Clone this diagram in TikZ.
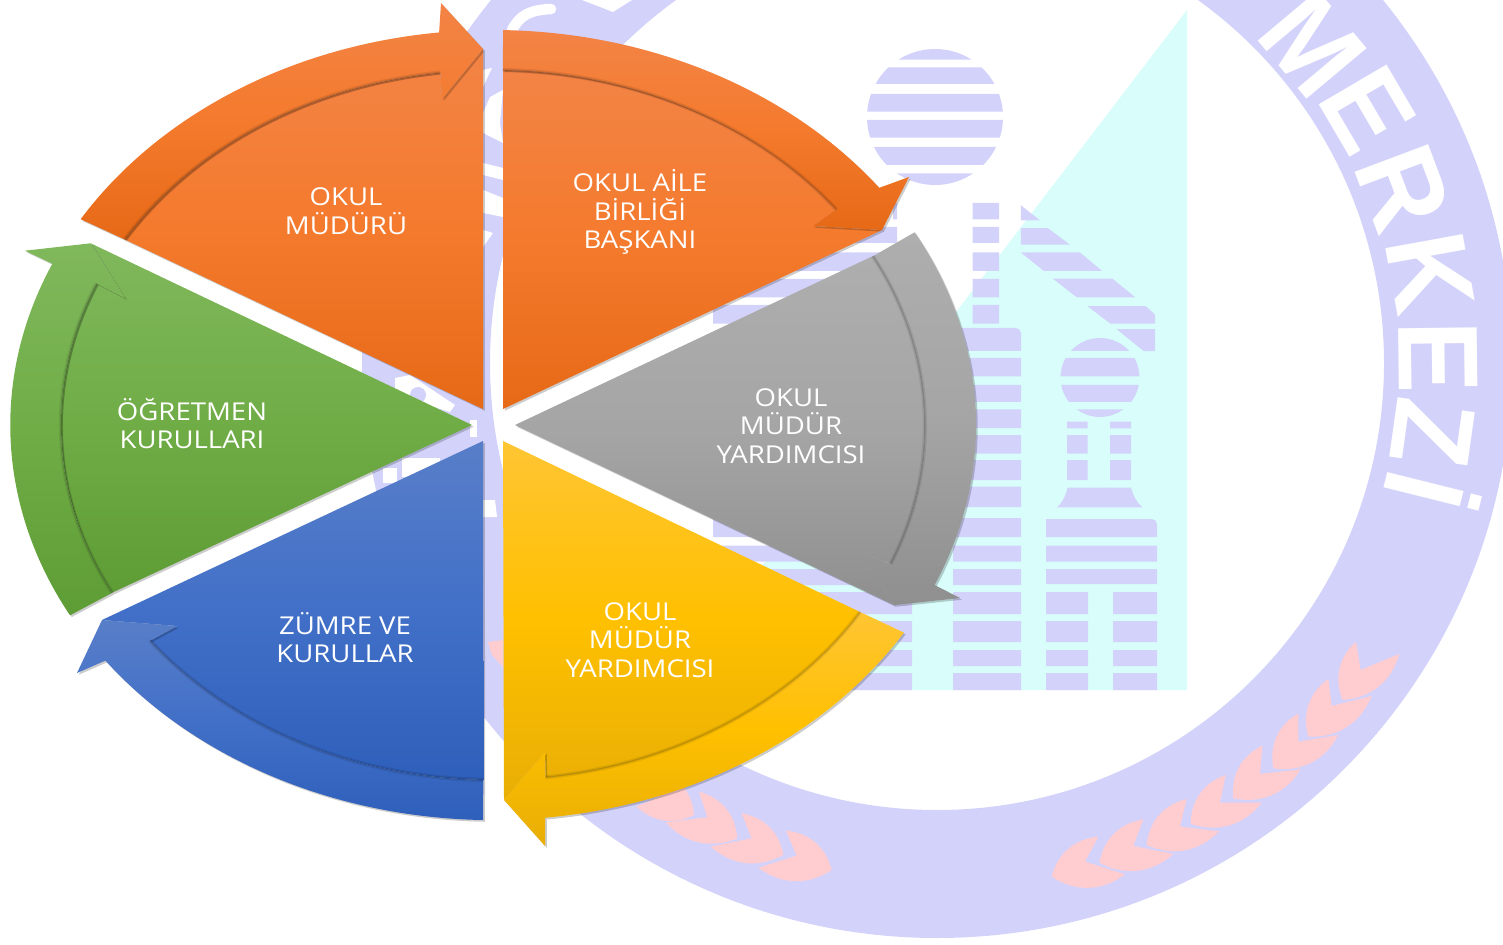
\documentclass[tikz,border=0pt]{standalone}
\usepackage{fontspec}
\setmainfont{Open Sans}
\newfontfamily\ringfont{Liberation Sans}
\usetikzlibrary{shadows}
\definecolor{ringlilac}{RGB}{211,210,250}
\definecolor{towercyan}{RGB}{216,253,250}
\definecolor{leafpink}{RGB}{255,204,208}
\definecolor{orangetop}{RGB}{243,132,70}
\definecolor{orangemid}{RGB}{244,122,45}
\definecolor{orangelow}{RGB}{230,105,22}
\definecolor{greentop}{RGB}{128,184,92}
\definecolor{greenmid}{RGB}{112,173,71}
\definecolor{greenlow}{RGB}{94,156,53}
\definecolor{bluetop}{RGB}{88,126,200}
\definecolor{bluemid}{RGB}{66,112,200}
\definecolor{bluelow}{RGB}{46,95,186}
\definecolor{yellowtop}{RGB}{255,197,51}
\definecolor{yellowmid}{RGB}{255,192,0}
\definecolor{yellowlow}{RGB}{232,174,5}
\definecolor{graytop}{RGB}{174,174,174}
\definecolor{graymid}{RGB}{165,165,165}
\definecolor{graylow}{RGB}{143,143,143}
\tikzset{
  outerarc/.style={x radius=483, y radius=395},
  innerarc/.style={x radius=432, y radius=355},
  softshadow/.style={drop shadow={shadow xshift=1pt, shadow yshift=-1pt, opacity=.2, fill=black}},
  orangepart/.style={top color=orangetop, bottom color=orangelow, middle color=orangemid, softshadow},
  greenpart/.style={top color=greentop, bottom color=greenlow, middle color=greenmid, softshadow},
  bluepart/.style={top color=bluetop, bottom color=bluelow, middle color=bluemid, softshadow},
  yellowpart/.style={top color=yellowtop, bottom color=yellowlow, middle color=yellowmid, softshadow},
  graypart/.style={top color=graytop, bottom color=graylow, middle color=graymid, softshadow},
  bandedge/.style={draw=black, draw opacity=.14, line width=.8pt, preaction={draw=black, draw opacity=.08, line width=2.4pt}},
  sectorlabel/.style={text=white, align=center, inner sep=0pt, xscale=1.12, transform shape, font=\fontsize{14}{16.2}\selectfont},
  ringletter/.style={text=white, inner sep=0pt, xscale=.95, transform shape, font=\ringfont\bfseries\fontsize{65}{70}\selectfont},
  lilac/.style={fill=ringlilac},
}

\begin{document}
\begin{tikzpicture}[x=0.02cm, y=-0.02cm]

  \useasboundingbox (0,0) rectangle (1503,945);

  % cyan triangle behind the towers
  \fill[towercyan] (1187,10) -- (1187,690) -- (667,690) -- cycle;

  % ring
  \fill[ringlilac, even odd rule] (937,363) circle[radius=575] circle[radius=447];

  % ring letters
  \node[rotate=-50, ringletter] (letter-m) at (1313,45) {M};
  \node[rotate=-59.6, ringletter] (letter-e1) at (1368,110) {E};
  \node[rotate=-69.4, ringletter] (letter-r) at (1403,188) {R};
  \node[rotate=-79.7, ringletter] (letter-k) at (1430,273) {K};
  \node[rotate=-89.3, ringletter] (letter-e2) at (1438,357) {E};
  \node[rotate=-98, ringletter] (letter-z) at (1433,433) {Z};
  \node[rotate=-104, ringletter] (letter-i) at (1433,492) {İ};

  % letter pieces seen between the sectors
  \draw[white, line width=6pt, line cap=round] (512,30) .. controls (520,15) and (530,10) .. (551,9);
  \fill[white] (582,0) -- (613,12) -- (632,0) -- cycle;
  \fill[white] (483,70) -- (492,68) -- (483,87) -- cycle;
  \fill[white] (483,113) -- (490,97) -- (503,90) -- (500,123) -- (503,143) -- (483,133) -- cycle;
  \fill[white] (483,163) -- (503,168) -- (503,180) -- (483,175) -- cycle;
  \fill[white] (483,190) -- (503,198) -- (503,217) -- (483,213) -- cycle;
  \fill[white] (483,230) -- (493,233) -- (483,247) -- cycle;
  \fill[white] (483,500) -- (495,500) -- (497,517) -- (483,517) -- cycle;
  \fill[white] (395,378) -- (410,375) -- (455,405) -- (450,412) -- (395,395) -- cycle;
  \fill[lilac] (418,395) circle[radius=8];
  \fill[white] (470,420) rectangle (477,437);
  \fill[white] (383,468) rectangle (397,483);
  \fill[white] (402,458) rectangle (440,477);
  \fill[leafpink] (503,640) -- (488,642) -- (492,655) -- (503,667) -- cycle;

  % right wreath
  \begin{scope}[shift={(1030,630)}, scale=0.3333]
    \fill[leafpink] (938,210) to[bend left=35] (978,35) -- (992,120) -- (1108,72) to[bend left=35] cycle;
    \fill[leafpink] (835,320) to[bend left=35] (895,147) -- (905,228) -- (1025,198) to[bend left=35] cycle;
    \fill[leafpink] (730,415) to[bend left=35] (805,250) -- (805,335) -- (925,315) to[bend left=35] cycle;
    \fill[leafpink] (610,505) to[bend left=35] (697,347) -- (690,432) -- (812,418) to[bend left=35] cycle;
    \fill[leafpink] (482,582) to[bend left=35] (587,435) -- (570,518) -- (695,518) to[bend left=35] cycle;
    \fill[leafpink] (350,645) to[bend left=35] (470,507) -- (450,590) -- (567,604) to[bend left=35] cycle;
    \fill[leafpink] (208,698) to[bend left=35] (340,568) -- (310,648) -- (430,672) to[bend left=35] cycle;
    \fill[leafpink] (65,740) to[bend left=35] (205,620) -- (165,695) -- (285,733) to[bend left=35] cycle;
  \end{scope}

  % left wreath
  \begin{scope}[shift={(620,770)}, scale=0.3333]
    \fill[leafpink] (635,300) to[bend right=35] (498,182) -- (530,257) -- (415,293) to[bend right=35] cycle;
    \fill[leafpink] (490,255) to[bend right=35] (365,130) -- (395,205) -- (272,230) to[bend right=35] cycle;
    \fill[leafpink] (352,205) to[bend right=35] (237,65) -- (262,142) -- (137,157) to[bend right=35] cycle;
    \fill[leafpink] (222,135) to[bend right=35] (110,0) -- (130,75) -- (50,110) to[bend right=35] cycle;
  \end{scope}

  % big disc with stripes
  \begin{scope}
    \clip (935,117) circle[radius=68];
    \fill[lilac]
    (860,49) rectangle (1010,59.7)
    (860,67.5) rectangle (1010,84)
    (860,94) rectangle (1010,111.6)
    (860,120) rectangle (1010,137.7)
    (860,147) rectangle (1010,165)
    (860,173.5) rectangle (1010,186);
  \end{scope}

  % small disc with stripes
  \begin{scope}
    \clip (1100,377.5) circle[radius=39.5];
    \fill[lilac]
    (1055,336) rectangle (1145,351)
    (1055,358) rectangle (1145,376.5)
    (1055,385) rectangle (1145,402)
    (1055,409.5) rectangle (1145,419);
  \end{scope}

  % thin column over the tall tower
  \fill[lilac]
  (972.5,203) rectangle (999,219.5)
  (972.5,227) rectangle (999,243)
  (972.5,252.5) rectangle (999,271)
  (972.5,279) rectangle (999,297.5)
  (972.5,305) rectangle (999,323.7);

  % tall tower
  \fill[lilac] (953,351) -- (953,328) [rounded corners=3pt] -- (1021,328) [sharp corners] -- (1021,351) -- cycle;
  \fill[lilac]
  (953,358) rectangle (1021,376.5)
  (953,385) rectangle (1021,402)
  (953,409.5) rectangle (1021,428)
  (953,435) rectangle (1021,453.6)
  (953,460) rectangle (1021,480)
  (953,486.7) rectangle (1021,507)
  (953,518) rectangle (1021,537)
  (953,545.5) rectangle (1021,561.5)
  (953,569) rectangle (1021,585)
  (953,592) rectangle (1021,614)
  (953,621) rectangle (1021,642)
  (953,650) rectangle (1021,666)
  (953,673) rectangle (1021,690);

  % tower hidden by the wheel
  \fill[lilac]
  (713,227) rectangle (897,243)
  (713,252.5) rectangle (897,271)
  (713,279) rectangle (897,297.5)
  (713,305) rectangle (897,323.7)
  (893,203) rectangle (897,219.5)
  (713,518) rectangle (912,537)
  (713,545.5) rectangle (912,561.5)
  (713,569) rectangle (912,585)
  (713,592) rectangle (912,614)
  (713,621) rectangle (912,642)
  (713,650) rectangle (912,666)
  (713,673) rectangle (912,690);

  % slanted stripes
  \fill[lilac] (1020.8,205.2) -- (1040,220.4) -- (1020.8,220.4) -- cycle;
  \fill[lilac] (1020.8,228.2) -- (1047.9,228.2) -- (1070,244.7) -- (1020.8,244.7) -- cycle;
  \fill[lilac] (1020.8,252.5) -- (1080,252.5) -- (1102,270.9) -- (1043.8,270.9) -- cycle;
  \fill[lilac] (1052.9,278.7) -- (1112.5,278.7) -- (1135.4,297.5) -- (1077,297.5) -- cycle;
  \fill[lilac] (1087.5,306.2) -- (1145.8,306.2) -- (1155,314.5) -- (1155,323.7) -- (1110.4,323.7) -- cycle;
  \fill[lilac] (1116.7,329.2) -- (1155,329.2) -- (1155,351.2) -- (1143.8,351.2) -- cycle;

  % short tower under the small disc
  \fill[lilac]
  (1067,421.5) rectangle (1087.5,428.4)
  (1067,435) rectangle (1087.5,453.6)
  (1067,460) rectangle (1087.5,480)
  (1110,421.5) rectangle (1131,428.4)
  (1110,435) rectangle (1131,453.6)
  (1110,460) rectangle (1131,480);
  \fill[lilac] (1057,507.3) .. controls (1063,502) and (1066,495) .. (1067.5,487.6) -- (1131,487.6) .. controls (1133,495) and (1136,502) .. (1142.5,507.3) -- cycle;
  \fill[lilac] (1046,537) -- (1046,519) [rounded corners=3pt] -- (1157,519) [sharp corners] -- (1157,537) -- cycle;
  \fill[lilac]
  (1046,545.5) rectangle (1157,561.5)
  (1046,569) rectangle (1157,584)
  (1046,592) rectangle (1088,614)
  (1046,621) rectangle (1088,642)
  (1046,650) rectangle (1088,666)
  (1046,673) rectangle (1088,690)
  (1113,592) rectangle (1157,614)
  (1113,621) rectangle (1157,642)
  (1113,650) rectangle (1157,666)
  (1113,673) rectangle (1157,690);

  % top left sector
  \path[orangepart] (483,409) -- (124.7,239.5) arc[innerarc, start angle=211.5, end angle=263] -- (442,99) -- (483,49) -- cycle;
  \path[orangepart] (80.7,219.2) arc[outerarc, start angle=211.4, end angle=263.6] -- (441,3) -- (483,49) -- (442,99) -- (440.4,72.6) arc[innerarc, start angle=263, end angle=211.5] -- cycle;
  \draw[bandedge] (440.4,72.6) arc[innerarc, start angle=263, end angle=211.5];

  % top right sector
  \path[orangepart] (503,409) -- (503,70) arc[innerarc, start angle=271.3, end angle=322.6] -- (813,226) -- (882,230) -- cycle;
  \path[orangepart] (503.1,30.1) arc[outerarc, start angle=271.2, end angle=323.1] -- (909,177) -- (882,230) -- (813,226) -- (836.2,209.4) arc[innerarc, start angle=322.6, end angle=271.3] -- cycle;
  \draw[bandedge] (836.2,209.4) arc[innerarc, start angle=322.6, end angle=271.3];

  % right sector
  \path[graypart] (515,425) -- (873,256) arc[innerarc, start angle=-28.4, end angle=23] -- (862.5,554) -- (894,605) -- cycle;
  \path[graypart] (914.6,232.3) arc[outerarc, start angle=-29.2, end angle=23.9] -- (960,598) -- (894,605) -- (862.5,554) -- (890.6,563.8) arc[innerarc, start angle=23, end angle=-28.4] -- cycle;
  \draw[bandedge] (890.6,563.8) arc[innerarc, start angle=23, end angle=-28.4];

  % lower right sector
  \path[yellowpart] (503,441) -- (860.2,612.1) arc[innerarc, start angle=31.8, end angle=83] -- (545,752) -- (504,800) -- cycle;
  \path[yellowpart] (903.9,632.6) arc[outerarc, start angle=31.7, end angle=83.8] -- (545,846) -- (504,800) -- (545,752) -- (545.6,777.3) arc[innerarc, start angle=83, end angle=31.8] -- cycle;
  \draw[bandedge] (545.6,777.3) arc[innerarc, start angle=83, end angle=31.8];

  % lower left sector
  \path[bluepart] (483,441) -- (102,620) -- (177,626) -- (150,640.6) arc[innerarc, start angle=142.6, end angle=91.3] -- cycle;
  \path[bluepart] (483,820) arc[outerarc, start angle=91.2, end angle=143.4] -- (77,673) -- (102,620) -- (177,626) -- (150,640.6) arc[innerarc, start angle=142.6, end angle=91.3] -- cycle;
  \draw[bandedge] (150,640.6) arc[innerarc, start angle=142.6, end angle=91.3];

  % left sector
  \path[greenpart] (472,425) -- (112.3,592.6) arc[innerarc, start angle=151.8, end angle=203.5] -- (125,298) -- (90.7,243.3) -- cycle;
  \path[greenpart] (70,615.3) arc[outerarc, start angle=151.2, end angle=204.1] -- (25,250.7) -- (90.7,243.3) -- (125,298) -- (96.8,283.5) arc[innerarc, start angle=203.5, end angle=151.8] -- cycle;
  \draw[bandedge] (96.8,283.5) arc[innerarc, start angle=203.5, end angle=151.8];

  % sector labels
  \node[sectorlabel] (label-mudur) at (346,211) {OKUL\\MÜDÜRÜ};
  \node[sectorlabel] (label-aile) at (640,212) {OKUL AİLE\\BİRLİĞİ\\BAŞKANI};
  \node[sectorlabel] (label-yard-a) at (791,426) {OKUL\\MÜDÜR\\YARDIMCISI};
  \node[sectorlabel] (label-yard-b) at (640,640) {OKUL\\MÜDÜR\\YARDIMCISI};
  \node[sectorlabel] (label-zumre) at (345,637.5) {ZÜMRE VE\\KURULLAR};
  \node[sectorlabel] (label-ogretmen) at (192,423.5) {ÖĞRETMEN\\KURULLARI};

\end{tikzpicture}
\end{document}
